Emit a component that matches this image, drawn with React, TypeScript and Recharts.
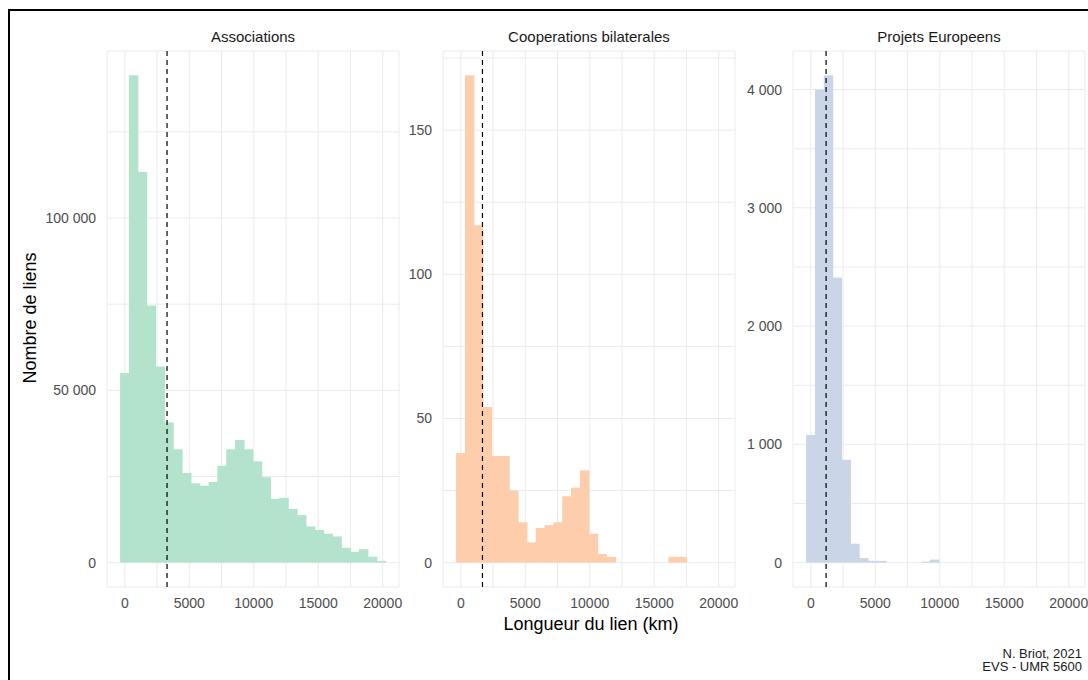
import { ComposedChart, Bar, XAxis, YAxis, CartesianGrid, ReferenceLine } from 'recharts';

// histogram bins (km), shared by the three facets
const BIN_WIDTH = 686;
const BIN_COUNT = 30;
const binCenters = Array.from({ length: BIN_COUNT }, (_, i) => i * BIN_WIDTH);

const xTicks = [0, 2500, 5000, 7500, 10000, 12500, 15000, 17500, 20000];

const associationsCounts = [
  55000, 141400, 113400, 74600, 56900, 40700, 32900, 26000, 23000, 22300,
  23400, 28100, 32900, 35600, 32900, 29400, 24800, 18500, 18800, 15600,
  13800, 10500, 9500, 8400, 7600, 4300, 3100, 3900, 1700, 500,
];
const cooperationsCounts = [
  38, 169, 117, 54, 37, 37, 25, 14, 7, 12,
  13, 14, 23, 26, 32, 10, 3, 2, 0, 0,
  0, 0, 0, 0, 2, 2, 0, 0, 0, 0,
];
const europeensCounts = [
  1080, 4000, 4120, 2410, 870, 160, 38, 15, 15, 0,
  0, 0, 0, 9, 26, 0, 0, 0, 0, 0,
  0, 0, 0, 0, 0, 0, 0, 0, 0, 0,
];

const facetTitles = ['Associations', 'Cooperations bilaterales', 'Projets Europeens'];
const meanLengths = [3275, 1680, 1185];

const assocTicks = [0, 25000, 50000, 75000, 100000, 125000];
const assocLabels = [0, 50000, 100000];
const coopTicks = [0, 25, 50, 75, 100, 125, 150, 175];
const coopLabels = [0, 50, 100, 150];
const europTicks = [0, 500, 1000, 1500, 2000, 2500, 3000, 3500, 4000];
const europLabels = [0, 1000, 2000, 3000, 4000];

const COLORS = ['#b3e2cd', '#fdcdac', '#cbd5e8'];

const FONT = "'Liberation Sans', Arial, sans-serif";
const X_MIN = -1380;
const X_MAX = 21260;
const PLOT_W = 292;
const PLOT_TOP = 51;
const PLOT_H = 536;
const X_AXIS_H = 40;
const RIGHT_PAD = 24;
const BAR_PX = (BIN_WIDTH * PLOT_W) / (X_MAX - X_MIN) - 0.02;

const frNumber = (v: number) => String(v).replace(/\B(?=(\d{3})+(?!\d))/g, ' ');

const HistBar = (props: any) => {
  const { x, y, width, height, fill } = props;
  if (!height || height <= 0) return <g />;
  return <rect x={x - 0.3} y={y} width={width + 0.6} height={height} fill={fill} />;
};

interface FacetProps {
  counts: number[];
  mean: number;
  color: string;
  yTicks: number[];
  yLabels: number[];
  plotLeft: number;
  yAxisWidth: number;
}

function Facet({ counts, mean, color, yTicks, yLabels, plotLeft, yAxisWidth }: FacetProps) {
  const data = binCenters.map((x, i) => ({ x, count: counts[i] }));
  const max = Math.max(...counts);
  const tickStyle = { fill: '#4d4d4d', fontSize: 14, fontFamily: FONT };

  return (
    <div style={{ position: 'absolute', left: plotLeft - yAxisWidth, top: 0 }}>
      <ComposedChart
        width={yAxisWidth + PLOT_W + RIGHT_PAD}
        height={PLOT_TOP + PLOT_H + X_AXIS_H}
        data={data}
        margin={{ top: PLOT_TOP, right: RIGHT_PAD, bottom: 0, left: 0 }}
        barCategoryGap={0}
        barGap={0}
      >
        <CartesianGrid stroke="#ebebeb" strokeWidth={1} />
        <XAxis
          dataKey="x"
          type="number"
          domain={[X_MIN, X_MAX]}
          allowDataOverflow
          ticks={xTicks}
          interval={0}
          height={X_AXIS_H}
          axisLine={false}
          tickLine={false}
          tickSize={6}
          tickMargin={5}
          tick={tickStyle}
          tickFormatter={(v: number) => (v % 5000 === 0 ? String(v) : '')}
        />
        <YAxis
          type="number"
          domain={[-0.05 * max, 1.05 * max]}
          allowDataOverflow
          ticks={yTicks}
          interval={0}
          width={yAxisWidth}
          axisLine={false}
          tickLine={false}
          tickSize={6}
          tickMargin={5}
          tick={tickStyle}
          tickFormatter={(v: number) => (yLabels.includes(v) ? frNumber(v) : '')}
        />
        <Bar
          dataKey="count"
          fill={color}
          barSize={BAR_PX}
          shape={HistBar}
          isAnimationActive={false}
        />
        <ReferenceLine x={mean} stroke="#000" strokeWidth={1.2} strokeDasharray="5 4" />
      </ComposedChart>
    </div>
  );
}

export default function App() {
  const plotLefts = [107, 443, 793];
  return (
    <div
      style={{
        position: 'absolute',
        left: 0,
        top: 0,
        width: 1088,
        height: 680,
        background: '#fff',
        overflow: 'hidden',
        fontFamily: FONT,
      }}
    >
      <Facet counts={associationsCounts} mean={meanLengths[0]} color={COLORS[0]}
        yTicks={assocTicks} yLabels={assocLabels} plotLeft={plotLefts[0]} yAxisWidth={67} />
      <Facet counts={cooperationsCounts} mean={meanLengths[1]} color={COLORS[1]}
        yTicks={coopTicks} yLabels={coopLabels} plotLeft={plotLefts[1]} yAxisWidth={40} />
      <Facet counts={europeensCounts} mean={meanLengths[2]} color={COLORS[2]}
        yTicks={europTicks} yLabels={europLabels} plotLeft={plotLefts[2]} yAxisWidth={50} />

      <svg
        width={1088}
        height={680}
        style={{ position: 'absolute', left: 0, top: 0, pointerEvents: 'none' }}
      >
        {facetTitles.map((t, i) => (
          <text key={t} x={plotLefts[i] + PLOT_W / 2} y={42} textAnchor="middle"
            fontSize={15} fill="#1a1a1a" fontFamily={FONT}>
            {t}
          </text>
        ))}
        <text x={591} y={630} textAnchor="middle" fontSize={18} fill="#000" fontFamily={FONT}>
          Longueur du lien (km)
        </text>
        <text transform="translate(36,318) rotate(-90)" textAnchor="middle" fontSize={18}
          fill="#000" fontFamily={FONT}>
          Nombre de liens
        </text>
        <text x={1082} y={658} textAnchor="end" fontSize={13} fill="#1a1a1a" fontFamily={FONT}>
          N. Briot, 2021
        </text>
        <text x={1082} y={671} textAnchor="end" fontSize={13} fill="#1a1a1a" fontFamily={FONT}>
          EVS - UMR 5600
        </text>
        <rect x={9} y={10} width={1200} height={1000} fill="none" stroke="#000" strokeWidth={2} />
      </svg>
    </div>
  );
}
